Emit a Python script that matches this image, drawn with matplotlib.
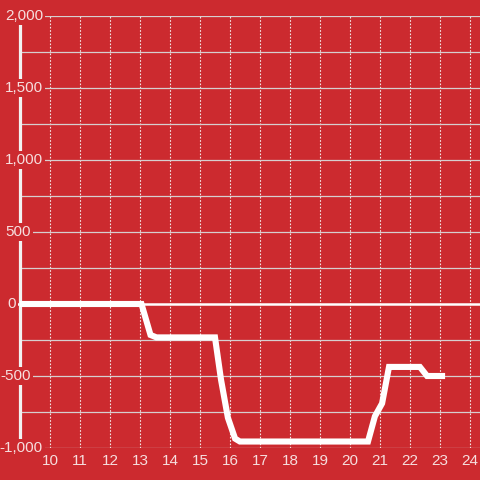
import matplotlib
matplotlib.use("Agg")
import matplotlib.pyplot as plt
import matplotlib.transforms as mtrans

# ===============================
# data
# ===============================
x_vals = [9.0, 13.05, 13.35, 13.55, 15.5, 15.7, 15.93, 16.17, 16.33,
          20.6, 20.83, 21.07, 21.3, 22.33, 22.57, 23.17]
y_vals = [0, 0, -215, -232, -232, -525, -790, -935, -955,
          -955, -780, -690, -437, -437, -500, -500]

x_ticks = list(range(10, 25))
y_major = [2000, 1500, 1000, 500, 0, -500, -1000]
y_labels = ["2,000", "1,500", "1,000", "500", "0", "-500", "-1,000"]
y_minor = [1750, 1250, 750, 250, -250, -750]

BG = "#cc2a2f"
GRID = "#d6cfcf"
TXT = "#f6dede"

# label right edge in pixels (layout only)
label_right = {"2,000": 43, "1,500": 43, "1,000": 43, "500": 31,
               "0": 16, "-500": 31, "-1,000": 43}

W = 480.0
fig = plt.figure(figsize=(4.8, 4.8), dpi=100)
fig.patch.set_facecolor(BG)
ax = fig.add_axes([0, 32 / W, 1, 432 / W])
ax.set_facecolor(BG)
x0 = 10 - 50 / 30
x1 = 10 + 430 / 30
ax.set_xlim(x0, x1)
ax.set_ylim(-1000, 2000)
ax.axis("off")

px = lambda p: x0 + (x1 - x0) * p / W

# vertical dotted grid
for xt in x_ticks:
    ax.axvline(xt, color="#f3e6e6", lw=0.8, ls=(0, (1.5, 1.5)), zorder=1)

# minor horizontal grid
for yv in y_minor:
    ax.plot([px(20), x1], [yv, yv], color=GRID, lw=0.9, zorder=1)

# major horizontal grid
for yv, lab in zip(y_major, y_labels):
    if yv == 0:
        ax.plot([px(label_right[lab] + 2), x1], [0, 0], color="white", lw=1.8, zorder=2)
    else:
        ax.plot([px(label_right[lab] + 2), x1], [yv, yv], color=GRID, lw=0.9, zorder=1)

# y axis line
ax.plot([px(20.5), px(20.5)], [-1000, 1950], color="#f2f2f2", lw=2.3, zorder=3,
        solid_capstyle="butt")

# data line
ax.plot(x_vals, y_vals, color="white", lw=4.4, zorder=4,
        solid_joinstyle="miter", solid_capstyle="butt")

# y labels (mask the axis line behind them)
for yv, lab in zip(y_major, y_labels):
    ax.text(px(label_right[lab]), yv, lab, ha="right", va="center",
            fontsize=11, color=TXT, fontfamily="Liberation Sans", zorder=5,
            bbox=dict(boxstyle="square,pad=0.15", fc=BG, ec="none"))

# x labels
trans = mtrans.blended_transform_factory(ax.transData, fig.transFigure)
for xt in x_ticks:
    ax.text(xt, 1 - 461 / W, str(xt), ha="center", va="center",
            fontsize=11, color=TXT, fontfamily="Liberation Sans",
            transform=trans, zorder=5)

fig.savefig("out.png", dpi=100, facecolor=BG)
